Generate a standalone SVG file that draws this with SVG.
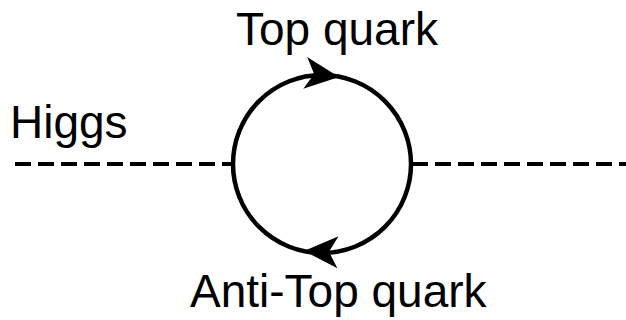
<svg xmlns="http://www.w3.org/2000/svg" width="626" height="320" viewBox="0 0 626 320">
<style>
.lbl{font-family:"Liberation Sans",Arial,sans-serif;font-size:46px;fill:#000}
.dash{stroke:#000;stroke-width:4;stroke-dasharray:16 7;fill:none}
.loop{stroke:#000;stroke-width:4.5;fill:none}
</style>
<defs>
<path id="ah" d="M1,0 L-33,-16 L-24,0 L-33,16 Z" fill="#000"/>
</defs>
<rect width="626" height="320" fill="#fff"/>
<g id="connectors">
<line class="dash" x1="15" y1="164" x2="232" y2="164"/>
<line class="dash" x1="412" y1="164" x2="626" y2="164"/>
</g>
<g id="loop">
<circle class="loop" cx="322" cy="164" r="89"/>
<use href="#ah" transform="translate(338,77) rotate(7)"/>
<use href="#ah" transform="translate(305,251) rotate(182)"/>
</g>
<g id="higgs"><text class="lbl" x="10" y="138">Higgs</text></g>
<g id="top"><text class="lbl" x="236" y="45">Top quark</text></g>
<g id="antitop"><text class="lbl" x="190" y="307">Anti-Top quark</text></g>
</svg>
